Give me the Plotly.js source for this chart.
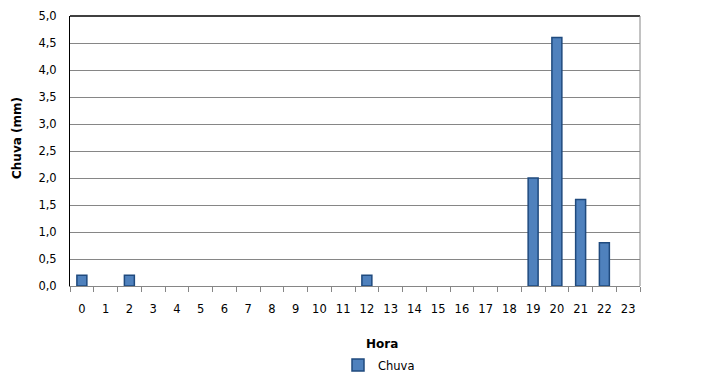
<!DOCTYPE html>
<html>
<head>
<meta charset="utf-8">
<script src="https://cdn.plot.ly/plotly-3.0.1.min.js"></script>
<style>
  html, body { margin: 0; padding: 0; background: #fff; }
  #chart { width: 715px; height: 391px; }
</style>
</head>
<body>
<div id="chart"></div>
<script>
// Hourly rainfall (mm)
const horas = ["0","1","2","3","4","5","6","7","8","9","10","11","12","13","14","15","16","17","18","19","20","21","22","23"];
const chuva = [0.2, 0, 0.2, 0, 0, 0, 0, 0, 0, 0, 0, 0, 0.2, 0, 0, 0, 0, 0, 0, 2.0, 4.6, 1.6, 0.8, 0];
const yTicks = [0, 0.5, 1, 1.5, 2, 2.5, 3, 3.5, 4, 4.5, 5];

const fontFam = "DejaVu Sans, Verdana, sans-serif";

// plot area in pixels: x 70..640, y 16..286
const PL = 70, PR = 640, PT = 16, PB = 286;
const px = v => (v - PL) / (PR - PL);
const py = v => (PB - v) / (PB - PT);

const trace = {
  type: "bar",
  name: "Chuva",
  x: horas,
  y: chuva,
  width: 0.42,
  marker: {
    color: "#4F81BD",
    // no outline on empty hours
    line: { color: "#1F4A7E", width: chuva.map(v => (v > 0 ? 1.5 : 0)) }
  },
  hoverinfo: "x+y"
};

const layout = {
  width: 715,
  height: 391,
  margin: { l: PL, r: 715 - PR, t: PT, b: 391 - PB },
  paper_bgcolor: "#ffffff",
  plot_bgcolor: "#ffffff",
  separators: ",.",
  font: { family: fontFam, size: 11, color: "#000" },
  bargap: 0,
  xaxis: {
    type: "category",
    tickson: "boundaries",
    ticks: "outside",
    ticklen: 5,
    tickcolor: "#868686",
    showline: true,
    linecolor: "#868686",
    linewidth: 1,
    showgrid: false,
    ticklabelstandoff: 12,
    tickfont: { size: 11.5, family: fontFam },
    fixedrange: true
  },
  yaxis: {
    range: [0, 5],
    tickvals: yTicks,
    tickformat: ".1f",
    showline: true,
    linecolor: "#000000",
    linewidth: 1,
    ticks: "",
    showgrid: true,
    gridcolor: "#868686",
    gridwidth: 1,
    zeroline: false,
    ticklabelstandoff: 10,
    tickfont: { size: 11.5, family: fontFam },
    fixedrange: true
  },
  showlegend: true,
  legend: {
    orientation: "h",
    x: px(379),
    xanchor: "center",
    y: py(365),
    yanchor: "middle",
    font: { size: 11.5, family: fontFam },
    itemwidth: 30
  },
  shapes: [
    { type: "line", xref: "paper", yref: "paper", x0: 0, x1: 1, y0: 1, y1: 1, line: { color: "#000", width: 1.5 } },
    { type: "line", xref: "paper", yref: "paper", x0: 1, x1: 1, y0: 0, y1: 1, line: { color: "#868686", width: 1 } }
  ],
  annotations: [
    { text: "<b>Hora</b>", xref: "paper", yref: "paper", x: px(382), y: py(344),
      showarrow: false, xanchor: "center", yanchor: "middle", font: { size: 12, family: fontFam } },
    { text: "<b>Chuva (mm)</b>", xref: "paper", yref: "paper", x: px(17), y: py(138),
      showarrow: false, textangle: -90, xanchor: "center", yanchor: "middle", font: { size: 12, family: fontFam } }
  ]
};

Plotly.newPlot("chart", [trace], layout, { displayModeBar: false, staticPlot: true });
</script>
</body>
</html>
